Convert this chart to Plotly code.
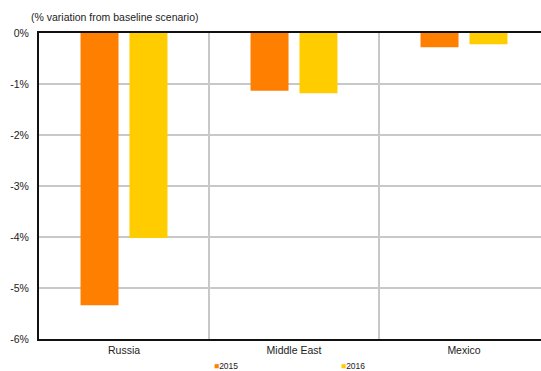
import plotly.graph_objects as go

# Output impact by region, % variation from baseline scenario
regions = ["Russia", "Middle East", "Mexico"]
impact_2015 = [-5.34, -1.13, -0.28]
impact_2016 = [-4.02, -1.18, -0.22]
y_ticks = [0, -1, -2, -3, -4, -5, -6]
y_tick_labels = ["0%", "-1%", "-2%", "-3%", "-4%", "-5%", "-6%"]

series = [("2015", impact_2015, "#FF7F00"), ("2016", impact_2016, "#FFCC00")]

FONT = "Liberation Sans, Arial, sans-serif"
TEXT = "#222222"
LEFT, TOP, BOTTOM, W, H = 39, 32.5, 31.5, 541, 371
CAT_PX = 170  # width of one category band

fig = go.Figure()
for name, values, color in series:
    fig.add_trace(go.Bar(
        x=regions, y=values, name=name,
        marker=dict(color=color, line=dict(width=0)),
        showlegend=False,
    ))

fig.update_layout(
    width=W, height=H,
    margin=dict(l=LEFT, r=0, t=TOP, b=BOTTOM),
    paper_bgcolor="white", plot_bgcolor="white",
    barmode="group", bargap=0.424, bargroupgap=0.224,
    font=dict(family=FONT, size=10.5, color=TEXT),
    xaxis=dict(
        type="category", range=[-0.5, -0.5 + (W - LEFT) / CAT_PX],
        tickson="boundaries", ticks="", showgrid=True,
        gridcolor="#C8C8C8", gridwidth=1.5,
        showline=True, linecolor="#111111", linewidth=2, mirror=True,
        tickfont=dict(size=10.5, color=TEXT),
    ),
    yaxis=dict(
        range=[-6, 0], tickvals=y_ticks, ticktext=y_tick_labels,
        showgrid=True, gridcolor="#C8C8C8", gridwidth=1.5,
        zeroline=False, ticks="", ticklabelstandoff=6,
        showline=True, linecolor="#111111", linewidth=2,
        tickfont=dict(size=10.5, color=TEXT),
    ),
)

# Axis caption above the plot
fig.add_annotation(
    text="(% variation from baseline scenario)",
    xref="paper", yref="paper", x=-0.02, y=1.0, yshift=16,
    xanchor="left", yanchor="middle", showarrow=False,
    font=dict(size=10.5, color=TEXT),
)

# Legend row under the category labels
legend_x = [212, 339]
for (name, _, color), px in zip(series, legend_x):
    fig.add_annotation(
        text=f"<span style='color:{color}'>■</span>{name}",
        xref="paper", yref="paper",
        x=(px - LEFT) / (W - LEFT), y=0, yshift=-27,
        xanchor="left", yanchor="middle", showarrow=False,
        font=dict(size=8.5, color=TEXT),
    )

fig.write_html("out.html")
